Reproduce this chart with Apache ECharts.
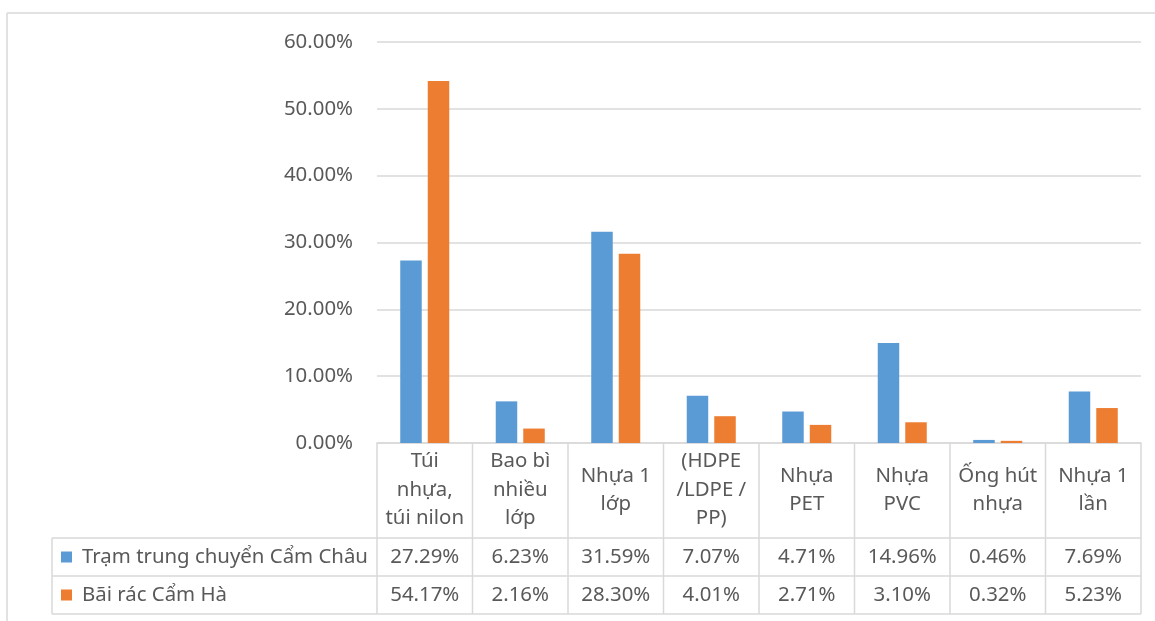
<!DOCTYPE html>
<html>
<head>
<meta charset="utf-8">
<script src="https://cdn.jsdelivr.net/npm/echarts@6/dist/echarts.min.js"></script>
<style>
  html, body { margin: 0; padding: 0; background: #fff; }
  #chart { width: 1155px; height: 621px; }
</style>
</head>
<body>
<div id="chart"></div>
<script>
// Plastic waste composition by type, two collection sites
const categories = ['Túi\nnhựa,\ntúi nilon', 'Bao bì\nnhiều\nlớp', 'Nhựa 1\nlớp', '(HDPE\n/LDPE /\nPP)', 'Nhựa\nPET', 'Nhựa\nPVC', 'Ống hút\nnhựa', 'Nhựa 1\nlần'];
const seriesNames = ['Trạm trung chuyển Cẩm Châu', 'Bãi rác Cẩm Hà'];
const camChau = [0.2729, 0.0623, 0.3159, 0.0707, 0.0471, 0.1496, 0.0046, 0.0769];
const camHa = [0.5417, 0.0216, 0.2830, 0.0401, 0.0271, 0.0310, 0.0032, 0.0523];
const yMin = 0, yMax = 0.6, yStep = 0.1;

const FONT = '"Noto Sans", "DejaVu Sans", sans-serif';
const FS = 20.4;
const TEXT = '#595959';
const LINE = '#d9d9d9';
const BLUE = '#5b9bd5';
const ORANGE = '#ed7d31';

// layout of plot area and data table
const W = 1155, H = 621;
const gridLeft = 377, gridRight = 14, gridTop = 42, gridBottom = 178;
const axisY = H - gridBottom;          // 443
const headerBottom = 538, row1Bottom = 576, row2Bottom = 614;
const legendLeft = 52;

const pct = v => (v * 100).toFixed(2) + '%';

const chart = echarts.init(document.getElementById('chart'), null, { renderer: 'canvas' });

const valueAxis = (vals, off) => ({
  type: 'category',
  gridIndex: 0,
  position: 'bottom',
  offset: off,
  data: categories,
  axisLine: { show: false },
  axisTick: { show: false },
  splitLine: { show: false },
  axisLabel: {
    interval: 0,
    margin: 0,
    verticalAlign: 'middle',
    color: TEXT,
    fontFamily: FONT,
    fontSize: FS,
    formatter: (v, i) => pct(vals[i])
  }
});

// table borders derived from the grid layout
const plotRight = W - gridRight;
const colW = (plotRight - gridLeft) / categories.length;
const graphics = [];
const hline = (x1, x2, y) => graphics.push({ type: 'line', shape: { x1, y1: y, x2, y2: y }, style: { stroke: LINE, lineWidth: 1.5 }, silent: true });
const vline = (x, y1, y2) => graphics.push({ type: 'line', shape: { x1: x, y1, x2: x, y2 }, style: { stroke: LINE, lineWidth: 1.5 }, silent: true });
// chart frame
hline(7, W, 13);
vline(7, 13, H);
// table rows
[headerBottom, row1Bottom, row2Bottom].forEach(y => hline(legendLeft, plotRight, y));
for (let i = 0; i <= categories.length; i++) vline(gridLeft + i * colW, axisY, row2Bottom);
vline(legendLeft, headerBottom, row2Bottom);

chart.setOption({
  animation: false,
  backgroundColor: '#fff',
  grid: { left: gridLeft, right: gridRight, top: gridTop, bottom: gridBottom, containLabel: false },
  legend: {
    orient: 'vertical',
    left: 61,
    top: 545,
    padding: 0,
    itemGap: 14,
    itemWidth: 11,
    itemHeight: 11,
    icon: 'rect',
    selectedMode: false,
    textStyle: { color: TEXT, fontFamily: FONT, fontSize: FS, lineHeight: 24, padding: [0, 0, 0, 5] },
    data: seriesNames
  },
  xAxis: [
    {
      type: 'category',
      data: categories,
      axisLine: { lineStyle: { color: LINE, width: 1.5 } },
      axisTick: { show: false },
      axisLabel: {
        interval: 0,
        margin: 47,
        verticalAlign: 'middle',
        align: 'center',
        color: TEXT,
        fontFamily: FONT,
        fontSize: FS,
        lineHeight: 28.5
      }
    },
    valueAxis(camChau, 114),
    valueAxis(camHa, 152)
  ],
  yAxis: {
    type: 'value',
    min: yMin,
    max: yMax,
    interval: yStep,
    axisLine: { show: false },
    axisTick: { show: false },
    splitLine: { lineStyle: { color: LINE, width: 1.5 } },
    axisLabel: {
      margin: 24,
      color: TEXT,
      fontFamily: FONT,
      fontSize: FS,
      formatter: v => pct(v)
    }
  },
  series: [
    { name: seriesNames[0], type: 'bar', data: camChau, barWidth: 21.5, barGap: '28%', itemStyle: { color: BLUE } },
    { name: seriesNames[1], type: 'bar', data: camHa, barWidth: 21.5, barGap: '28%', itemStyle: { color: ORANGE } }
  ],
  graphic: graphics
});
</script>
</body>
</html>
